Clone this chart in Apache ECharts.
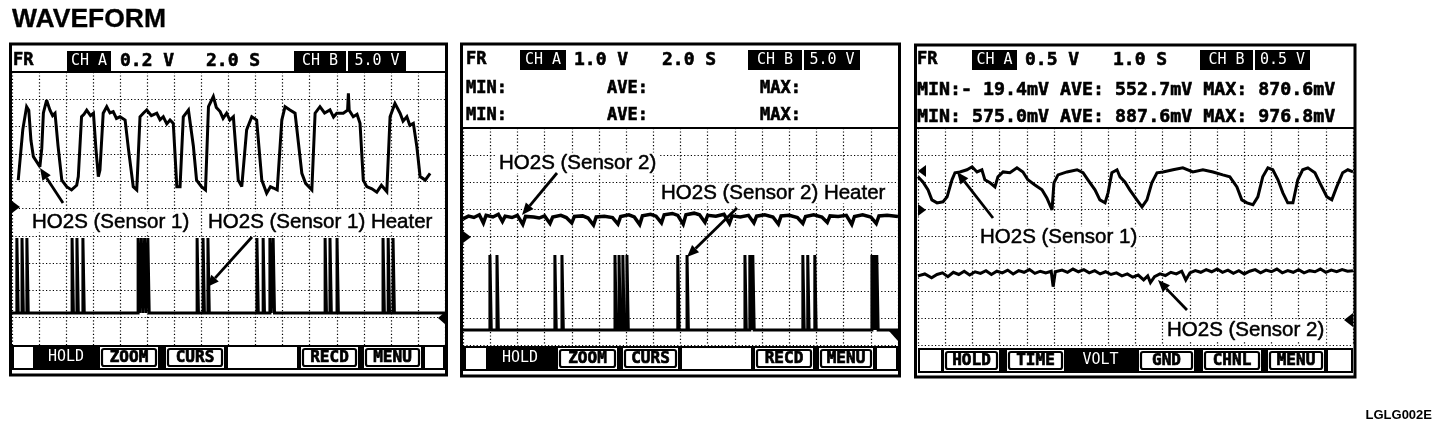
<!DOCTYPE html>
<html>
<head>
<meta charset="utf-8">
<script src="https://cdn.jsdelivr.net/npm/echarts/dist/echarts.min.js"></script>
<style>
html,body{margin:0;padding:0;background:#fff;}
#c{width:1440px;height:434px;}
</style>
</head>
<body>
<div id="c"></div>
<script>
// ---------------- DATA (x in time divisions, y in screen divisions) ----------------
const titleText = 'WAVEFORM';
const figureId = 'LGLG002E';

// Panel 1: HO2S (Sensor 1) and its heater
const p1Sensor1 = [[0.23,6.04],[0.40,7.90],[0.54,8.73],[0.62,8.60],[0.70,7.50],[0.79,6.90],[1.03,6.53],[1.10,7.20],[1.16,8.50],[1.28,8.97],[1.40,8.61],[1.50,8.40],[1.59,8.49],[1.70,7.30],[1.84,6.04],[2.02,5.80],[2.20,5.68],[2.39,5.85],[2.45,6.17],[2.57,8.36],[2.66,8.45],[2.76,8.60],[2.90,8.40],[3.01,8.49],[3.10,7.20],[3.19,6.17],[3.25,6.41],[3.37,8.49],[3.50,8.73],[3.62,8.50],[3.74,8.55],[3.86,8.30],[3.99,8.36],[4.18,8.24],[4.30,7.20],[4.48,5.80],[4.61,5.68],[4.73,8.36],[4.86,8.50],[4.98,8.61],[5.15,8.40],[5.35,8.49],[5.47,8.25],[5.59,8.36],[5.72,8.10],[5.84,8.24],[5.96,8.12],[6.09,5.80],[6.21,5.80],[6.33,8.36],[6.52,8.61],[6.70,7.30],[6.82,6.04],[7.00,5.80],[7.15,5.68],[7.26,8.73],[7.44,9.10],[7.55,8.70],[7.69,8.55],[7.80,8.30],[7.93,8.49],[8.05,8.24],[8.18,8.36],[8.36,6.04],[8.49,5.80],[8.67,7.88],[8.86,8.36],[9.04,8.24],[9.23,6.04],[9.41,5.56],[9.55,5.80],[9.66,5.75],[9.80,5.68],[9.97,8.24],[10.09,8.73],[10.27,8.61],[10.46,8.49],[10.71,6.29],[10.85,5.92],[11.08,5.68],[11.20,8.49],[11.38,8.73],[11.55,8.50],[11.75,8.61],[11.88,8.35],[12.00,8.49],[12.24,8.49],[12.40,8.60],[12.43,9.22],[12.46,8.60],[12.61,8.36],[12.75,8.45],[12.86,8.12],[12.98,6.04],[13.11,5.80],[13.30,5.72],[13.48,5.60],[13.65,5.85],[13.85,5.62],[13.97,8.36],[14.15,8.85],[14.34,8.49],[14.45,8.20],[14.59,8.36],[14.70,8.05],[14.83,8.12],[14.96,7.26],[15.08,6.17],[15.27,6.04],[15.45,6.29]];
const p1HeaterPulses = [0.18,0.37,0.55,2.22,2.40,2.62,4.66,4.78,4.90,5.02,6.84,7.06,7.24,9.05,9.28,9.53,9.65,11.57,11.75,12.01,13.71,13.90,14.08];
const p1HeaterLevels = [1.17, 3.92];

// Panel 2: HO2S (Sensor 2) and its heater
const p2Sensor2 = [[0.0,4.65],[0.2,4.75],[0.4,4.70],[0.6,4.80],[0.75,4.50],[0.85,4.78],[1.1,4.72],[1.3,4.82],[1.45,4.55],[1.55,4.75],[1.8,4.70],[2.0,4.78],[2.2,4.45],[2.3,4.74],[2.6,4.72],[2.8,4.68],[3.0,4.76],[3.2,4.48],[3.3,4.72],[3.6,4.78],[3.8,4.70],[4.0,4.50],[4.1,4.74],[4.4,4.76],[4.6,4.68],[4.8,4.42],[4.9,4.72],[5.2,4.75],[5.5,4.70],[5.7,4.46],[5.8,4.74],[6.1,4.80],[6.3,4.72],[6.5,4.44],[6.6,4.76],[6.9,4.82],[7.1,4.75],[7.3,4.50],[7.4,4.80],[7.7,4.85],[7.9,4.78],[8.1,4.45],[8.2,4.80],[8.5,4.86],[8.7,4.80],[8.9,4.52],[9.0,4.78],[9.3,4.75],[9.6,4.82],[9.8,4.48],[9.9,4.76],[10.2,4.72],[10.5,4.78],[10.7,4.50],[10.8,4.75],[11.1,4.80],[11.4,4.72],[11.6,4.46],[11.7,4.76],[12.0,4.78],[12.3,4.70],[12.5,4.48],[12.6,4.74],[12.9,4.80],[13.2,4.72],[13.4,4.52],[13.5,4.76],[13.8,4.74],[14.1,4.78],[14.3,4.45],[14.4,4.74],[14.7,4.80],[15.0,4.72],[15.2,4.48],[15.3,4.76],[15.6,4.78],[16.0,4.74]];
const p2HeaterPulses = [0.99,1.25,3.38,3.64,5.59,5.74,5.88,6.03,7.90,8.24,10.37,10.55,10.66,12.50,12.68,12.94,15.04,15.15,15.22];
const p2HeaterLevels = [0.55, 3.32];

// Panel 3: HO2S (Sensor 1) and HO2S (Sensor 2)
const p3Sensor1 = [[0.00,6.20],[0.18,6.01],[0.37,5.72],[0.51,5.35],[0.70,5.24],[0.92,5.28],[1.07,5.46],[1.25,6.09],[1.36,6.35],[1.54,6.38],[1.80,6.46],[1.99,6.57],[2.17,6.38],[2.35,6.46],[2.46,6.09],[2.65,5.98],[2.83,5.83],[2.94,6.20],[3.13,6.38],[3.38,6.35],[3.64,6.53],[3.86,6.38],[4.04,6.09],[4.30,5.90],[4.56,5.72],[4.74,5.42],[4.93,4.98],[5.00,5.98],[5.15,6.27],[5.48,6.38],[5.85,6.46],[6.07,6.35],[6.25,6.09],[6.51,5.72],[6.69,5.35],[6.88,5.24],[6.99,5.61],[7.13,6.35],[7.32,6.46],[7.43,6.20],[7.61,6.01],[7.79,5.72],[8.05,5.35],[8.24,5.09],[8.42,5.35],[8.60,5.98],[8.79,6.35],[9.01,6.38],[9.38,6.46],[9.74,6.53],[10.11,6.38],[10.48,6.46],[10.85,6.38],[11.21,6.27],[11.47,6.20],[11.73,5.83],[11.91,5.35],[12.10,5.24],[12.32,5.17],[12.50,5.46],[12.68,6.20],[12.87,6.53],[13.05,6.46],[13.24,6.09],[13.42,5.61],[13.60,5.24],[13.79,5.24],[13.97,6.09],[14.15,6.46],[14.34,6.53],[14.60,6.35],[14.78,5.98],[15.04,5.46],[15.22,5.35],[15.40,5.83],[15.62,6.35],[15.81,6.46],[16.00,6.38]];
const p3Sensor2 = [[0.0,2.55],[0.25,2.62],[0.5,2.48],[0.7,2.60],[0.9,2.66],[1.1,2.52],[1.3,2.68],[1.5,2.60],[1.7,2.72],[1.9,2.58],[2.1,2.70],[2.3,2.64],[2.5,2.74],[2.7,2.60],[2.9,2.72],[3.1,2.66],[3.3,2.76],[3.5,2.62],[3.7,2.74],[3.9,2.68],[4.1,2.78],[4.3,2.64],[4.5,2.72],[4.7,2.66],[4.9,2.72],[4.97,2.15],[5.05,2.70],[5.3,2.76],[5.5,2.68],[5.7,2.80],[5.9,2.70],[6.1,2.78],[6.3,2.66],[6.5,2.74],[6.7,2.62],[6.9,2.70],[7.1,2.60],[7.3,2.66],[7.5,2.55],[7.7,2.62],[7.9,2.50],[8.1,2.58],[8.3,2.40],[8.45,2.55],[8.55,2.30],[8.7,2.52],[8.9,2.62],[9.1,2.56],[9.3,2.68],[9.5,2.62],[9.7,2.72],[9.85,2.40],[10.0,2.66],[10.2,2.74],[10.4,2.68],[10.6,2.78],[10.8,2.70],[11.0,2.80],[11.2,2.68],[11.4,2.76],[11.6,2.64],[11.8,2.74],[12.0,2.62],[12.2,2.72],[12.4,2.78],[12.6,2.66],[12.8,2.76],[13.0,2.70],[13.2,2.80],[13.4,2.66],[13.6,2.74],[13.8,2.68],[14.0,2.78],[14.2,2.66],[14.4,2.74],[14.6,2.70],[14.8,2.80],[15.0,2.68],[15.2,2.76],[15.4,2.70],[15.6,2.78],[15.8,2.72],[16.0,2.74]];

// Screen texts
const p1HeaderTexts = ['FR', 'CH A', '0.2 V', '2.0 S', 'CH B', '5.0 V'];
const p2HeaderTexts = ['FR', 'CH A', '1.0 V', '2.0 S', 'CH B', '5.0 V'];
const p3HeaderTexts = ['FR', 'CH A', '0.5 V', '1.0 S', 'CH B', '0.5 V'];
const p2StatLabels = ['MIN:', 'AVE:', 'MAX:'];
const p3StatRows = ['MIN:- 19.4mV AVE: 552.7mV MAX: 870.6mV', 'MIN: 575.0mV AVE: 887.6mV MAX: 976.8mV'];
const p1MenuTexts = ['', 'HOLD', 'ZOOM', 'CURS', '', 'RECD', 'MENU', ''];
const p2MenuTexts = ['', 'HOLD', 'ZOOM', 'CURS', '', 'RECD', 'MENU', ''];
const p3MenuTexts = ['', 'HOLD', 'TIME', 'VOLT', 'GND', 'CHNL', 'MENU', ''];
const p1Labels = ['HO2S (Sensor 1)', 'HO2S (Sensor 1) Heater'];
const p2Labels = ['HO2S (Sensor 2)', 'HO2S (Sensor 2) Heater'];
const p3Labels = ['HO2S (Sensor 1)', 'HO2S (Sensor 2)'];

// ---------------- LAYOUT ----------------
const PULSE_W = 0.05;
const PIX = 'DejaVu Sans Mono';
const SANS = 'Liberation Sans';

const chart = echarts.init(document.getElementById('c'), null, {renderer: 'canvas'});

const grids = [
  {left: 12, top: 72, width: 433, height: 273, ymax: 10},
  {left: 463, top: 128, width: 435, height: 217, ymax: 8},
  {left: 918, top: 128, width: 435, height: 217, ymax: 8}
];

function heaterData(pulses, levels) {
  const out = [[0, levels[0]]];
  pulses.forEach(t => {
    out.push([t, levels[0]], [t, levels[1]], [t + PULSE_W, levels[1]], [t + PULSE_W, levels[0]]);
  });
  out.push([16, levels[0]]);
  return out;
}
function lineSeries(idx, data, w) {
  return {type: 'line', xAxisIndex: idx, yAxisIndex: idx, data: data, showSymbol: false, symbol: 'none',
    lineStyle: {color: '#000', width: w, join: 'miter', miterLimit: 3}, animation: false, z: 5, silent: true};
}

const G = [];
function txt(x, y, s, font, fill, align, bg, strokeW) {
  const e = {type: 'text', z: 100, x: x, y: y,
    style: {text: s, font: font, fill: fill || '#000', align: align || 'left', verticalAlign: 'middle',
      textAlign: align || 'left', textVerticalAlign: 'middle'}};
  if (bg) { e.style.backgroundColor = bg; e.style.padding = [0, 2]; }
  if (strokeW) { e.style.stroke = fill || '#000'; e.style.lineWidth = strokeW; }
  G.push(e);
}
function rect(x, y, w, h, fill, stroke, lw, r) {
  G.push({type: 'rect', z: 100, shape: {x: x, y: y, width: w, height: h, r: r || 0},
    style: {fill: fill || 'none', stroke: stroke || 'none', lineWidth: lw || 0}});
}
function line(x1, y1, x2, y2, lw) {
  G.push({type: 'line', z: 100, shape: {x1: x1, y1: y1, x2: x2, y2: y2}, style: {stroke: '#000', lineWidth: lw || 2}});
}
function tri(pts) {
  G.push({type: 'polygon', z: 100, shape: {points: pts}, style: {fill: '#000'}});
}
function arrow(x1, y1, x2, y2) {
  const dx = x2 - x1, dy = y2 - y1, L = Math.sqrt(dx * dx + dy * dy);
  const ux = dx / L, uy = dy / L, hl = 12, hw = 5;
  const bx = x2 - ux * hl, by = y2 - uy * hl;
  line(x1, y1, bx, by, 2.8);
  tri([[x2, y2], [bx - uy * hw, by + ux * hw], [bx + uy * hw, by - ux * hw]]);
}

// title & id
txt(12, 20, titleText, 'bold 26.5px ' + SANS, '#000', 'left', null, 0.3);
txt(1432, 415, figureId, 'bold 13px ' + SANS, '#000', 'right');

// panel frames and separators
const frames = [[10.5, 44, 436, 331, 72], [461.5, 44, 438, 332, 128], [915.5, 45, 439.5, 332, 128]];
frames.forEach(f => {
  rect(f[0], f[1], f[2], f[3], 'none', '#000', 3);
  line(f[0], f[4], f[0] + f[2], f[4], 2);
});

// headers
function header(texts, pos, y) {
  txt(pos[0], y, texts[0], 'bold 17px ' + PIX, '#000', 'left', null, 0.6);
  rect(pos[1], y - 10, pos[2] - pos[1], 20, '#000');
  txt((pos[1] + pos[2]) / 2, y, texts[1], 'normal 15px ' + PIX, '#fff', 'center');
  txt(pos[3], y, texts[2], 'bold 18px ' + PIX, '#000', 'left', null, 0.6);
  txt(pos[4], y, texts[3], 'bold 18px ' + PIX, '#000', 'left', null, 0.6);
  rect(pos[5], y - 10, pos[6] - pos[5], 20, '#000');
  txt((pos[5] + pos[6]) / 2, y, texts[4], 'normal 15px ' + PIX, '#fff', 'center');
  rect(pos[7], y - 10, pos[8] - pos[7], 20, '#000');
  txt((pos[7] + pos[8]) / 2, y, texts[5], 'normal 15px ' + PIX, '#fff', 'center');
}
header(p1HeaderTexts, [13, 67, 111, 120, 206, 294, 346, 348, 406], 61);
header(p2HeaderTexts, [466, 520, 566, 574, 662, 748, 802, 804, 860], 60);
header(p3HeaderTexts, [917, 972, 1017, 1025, 1113, 1200, 1253, 1255, 1310], 60);

// stats rows
[89, 116].forEach(y => {
  txt(466, y, p2StatLabels[0], 'bold 17px ' + PIX, '#000', 'left', null, 0.6);
  txt(607, y, p2StatLabels[1], 'bold 17px ' + PIX, '#000', 'left', null, 0.6);
  txt(760, y, p2StatLabels[2], 'bold 17px ' + PIX, '#000', 'left', null, 0.6);
});
txt(917, 90, p3StatRows[0], 'bold 18.3px ' + PIX, '#000', 'left', null, 0.6);
txt(917, 117, p3StatRows[1], 'bold 18.3px ' + PIX, '#000', 'left', null, 0.6);

// menus
function menu(texts, slots, x0, x1, y0, h, invIdx) {
  rect(x0, y0, x1 - x0, h, '#000');
  slots.forEach((s, i) => {
    const t = texts[i];
    if (i === invIdx) {
      txt((s[0] + s[1]) / 2, y0 + h / 2, t, 'normal 15px ' + PIX, '#fff', 'center');
    } else {
      rect(s[0], y0 + 2, s[1] - s[0], h - 4, '#fff');
      if (t) {
        rect(s[0] + 2, y0 + 4, s[1] - s[0] - 4, h - 8, 'none', '#000', 2.2, 2);
        txt((s[0] + s[1]) / 2, y0 + h / 2, t, 'bold 16px ' + PIX, '#000', 'center', null, 0.7);
      }
    }
  });
}
menu(p1MenuTexts, [[14, 33], [35, 97], [100, 158], [166, 224], [228, 297], [301, 358], [364, 421], [425, 443]], 12, 445, 345, 25, 1);
menu(p2MenuTexts, [[466, 486], [488, 552], [558, 617], [623, 678], [682, 751], [755, 813], [819, 873], [877, 896]], 463, 898, 346, 25, 1);
menu(p3MenuTexts, [[920, 941], [944, 999], [1007, 1064], [1068, 1133], [1139, 1194], [1203, 1261], [1268, 1324], [1328, 1351]], 918, 1353, 348, 25, 3);

// annotations
const LF = 'normal 20.5px ' + SANS;
txt(30, 222, p1Labels[0], LF, '#000', 'left', '#fff', 0.5);
txt(206, 222, p1Labels[1], LF, '#000', 'left', '#fff', 0.5);
txt(497, 163, p2Labels[0], LF, '#000', 'left', '#fff', 0.5);
txt(659, 193, p2Labels[1], LF, '#000', 'left', '#fff', 0.5);
txt(978, 237, p3Labels[0], LF, '#000', 'left', '#fff', 0.5);
txt(1165, 330, p3Labels[1], LF, '#000', 'left', '#fff', 0.5);
arrow(63, 203, 40, 168);
arrow(252, 237, 207, 287);
arrow(557, 173, 522, 215);
arrow(737, 208, 687, 257);
arrow(993, 218, 957, 172);
arrow(1187, 310, 1158, 280);

// ground markers
tri([[12, 201], [20, 207], [12, 213]]);
tri([[446, 311], [438, 318], [446, 325]]);
tri([[463, 231], [471, 237], [463, 243]]);
tri([[889, 331], [898, 331], [898, 341]]);
tri([[918, 204], [926, 210], [918, 216]]);
tri([[926, 165], [918, 171], [926, 177]]);
tri([[1353, 313], [1344, 320], [1353, 327]]);

const axisCommon = {
  type: 'value', interval: 1, axisLine: {show: false}, axisTick: {show: false}, axisLabel: {show: false},
  splitLine: {show: true, lineStyle: {color: '#000', width: 1.2, type: [1.2, 2.2]}}
};

const option = {
  backgroundColor: '#fff',
  animation: false,
  grid: grids.map(g => ({left: g.left, top: g.top, width: g.width, height: g.height, containLabel: false})),
  xAxis: grids.map((g, i) => Object.assign({}, axisCommon, {gridIndex: i, min: 0, max: 16})),
  yAxis: grids.map((g, i) => Object.assign({}, axisCommon, {gridIndex: i, min: 0, max: g.ymax})),
  series: [
    lineSeries(0, p1Sensor1, 3),
    lineSeries(0, heaterData(p1HeaterPulses, p1HeaterLevels), 3),
    lineSeries(1, p2Sensor2, 3.5),
    lineSeries(1, heaterData(p2HeaterPulses, p2HeaterLevels), 3),
    lineSeries(2, p3Sensor1, 3),
    lineSeries(2, p3Sensor2, 3)
  ],
  graphic: G
};
chart.setOption(option);
</script>
</body>
</html>
